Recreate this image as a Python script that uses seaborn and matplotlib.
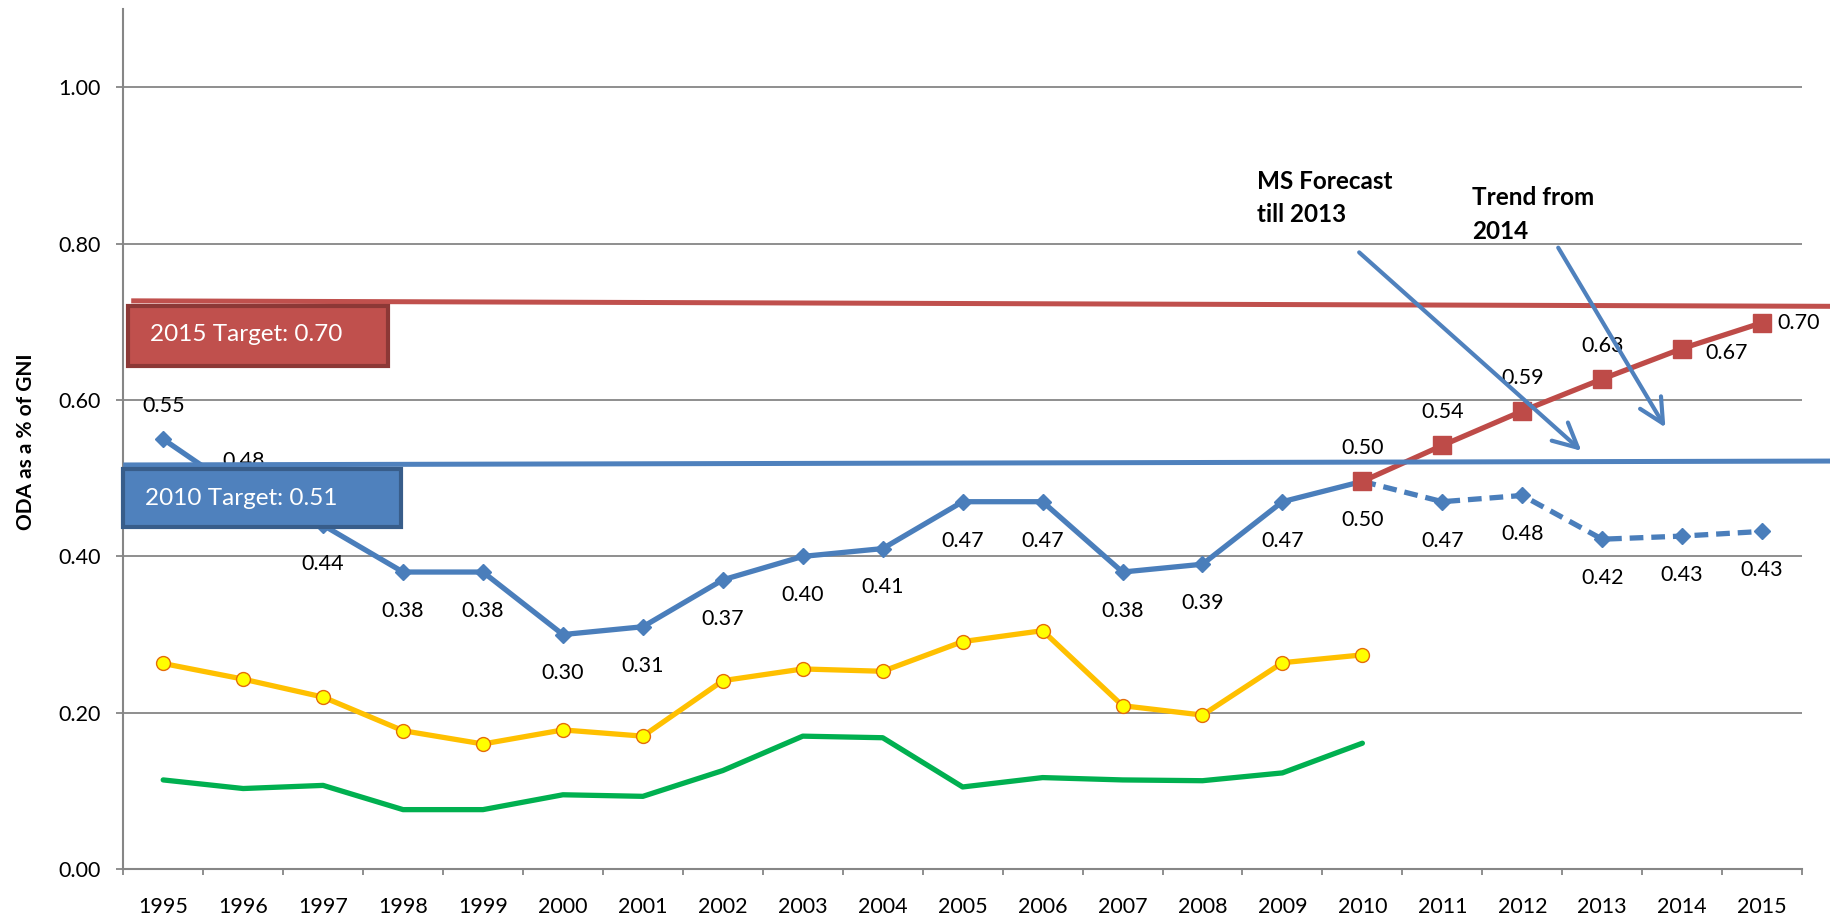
import numpy as np
import matplotlib
matplotlib.use("Agg")
import matplotlib.pyplot as plt
from matplotlib.patches import Rectangle
from matplotlib.ticker import FormatStrFormatter
import seaborn as sns

# categories
years = list(range(1995, 2016))
actual_years = list(range(1995, 2011))
forecast_years = list(range(2010, 2016))

# series values (ODA as % of GNI)
eu_oda = [0.55, 0.48, 0.44, 0.38, 0.38, 0.30, 0.31, 0.37, 0.40, 0.41,
          0.47, 0.47, 0.38, 0.39, 0.47, 0.496]
eu_forecast = [0.496, 0.47, 0.478, 0.422, 0.426, 0.432]
path_to_target = [0.496, 0.542, 0.586, 0.627, 0.666, 0.699]
yellow_series = [0.263, 0.243, 0.220, 0.177, 0.160, 0.178, 0.170, 0.241,
                 0.256, 0.253, 0.291, 0.305, 0.209, 0.197, 0.264, 0.274]
green_series = [0.114, 0.103, 0.107, 0.076, 0.076, 0.095, 0.093, 0.126,
                0.170, 0.168, 0.105, 0.117, 0.114, 0.113, 0.123, 0.161]

# target lines (left end, right end)
target_2015 = [0.727, 0.720]
target_2010 = [0.517, 0.522]

# where each data label sits
eu_label_pos = ["above", "above"] + ["below"] * 14
forecast_label_pos = ["below"] * 5
path_label_pos = ["above", "above", "above", "above", "right2", "right"]

GRID = "#868686"
BLUE = "#4A7EBB"
LIGHT_BLUE = "#4F81BD"
RED = "#BE4B48"
LIGHT_RED = "#C0504D"
GOLD = "#FFC000"
GREEN = "#00B050"

sns.set_theme(style="white")
plt.rcParams["font.family"] = ["Lato", "DejaVu Sans"]

fig = plt.figure(figsize=(18.31, 9.24), dpi=100)
ax = fig.add_axes([0.0673, 0.0595, 0.9169, 0.9304])

# lines
sns.lineplot(x=actual_years, y=green_series, color=GREEN, linewidth=3.8, ax=ax, zorder=2)
sns.lineplot(x=actual_years, y=yellow_series, color=GOLD, linewidth=3.8, marker="o",
             markersize=10, markerfacecolor="#FFFF00", markeredgecolor="#E46C0A",
             markeredgewidth=1.0, ax=ax, zorder=2)
sns.lineplot(x=actual_years, y=eu_oda, color=BLUE, linewidth=3.8, marker="D",
             markersize=8.5, markerfacecolor=BLUE, markeredgecolor=BLUE,
             markeredgewidth=1.0, ax=ax, zorder=3)
sns.lineplot(x=forecast_years, y=eu_forecast, color=BLUE, linewidth=3.8,
             linestyle=(0, (2.6, 1.5)), marker="D", markersize=8.5,
             markerfacecolor=BLUE, markeredgecolor=BLUE, markeredgewidth=1.0,
             ax=ax, zorder=3)
sns.lineplot(x=forecast_years, y=path_to_target, color=RED, linewidth=3.8, marker="s",
             markersize=13, markerfacecolor=RED, markeredgecolor=RED,
             markeredgewidth=1.0, ax=ax, zorder=4)

# data labels
offsets = {"above": (0, 24), "below": (0, -28), "right": (11, 0), "right2": (17, -3)}
label_sets = [(actual_years, eu_oda, eu_label_pos),
              (forecast_years[1:], eu_forecast[1:], forecast_label_pos),
              (forecast_years, path_to_target, path_label_pos)]
for xs, vals, poss in label_sets:
    for yr, v, pos in zip(xs, vals, poss):
        ha = "left" if pos.startswith("right") else "center"
        ax.annotate(f"{v:.2f}", (yr, v), xytext=offsets[pos], textcoords="offset points",
                    ha=ha, va="center", fontsize=15.5, color="black", zorder=3.5)

# target lines, running off the right of the plot
ax.plot([1994.6, 2015.86], target_2015, color=LIGHT_RED, linewidth=3.6,
        solid_capstyle="butt", clip_on=False, zorder=5)
ax.plot([1994.5, 2015.86], target_2010, color=LIGHT_BLUE, linewidth=3.6,
        solid_capstyle="butt", clip_on=False, zorder=5)

# target boxes
ax.add_patch(Rectangle((1994.56, 0.643), 3.25, 0.077, facecolor=LIGHT_RED,
                       edgecolor="#8C3836", linewidth=3, clip_on=False, zorder=6))
ax.text(1994.834, 0.684, "2015 Target: 0.70", color="white", fontsize=17.5,
        ha="left", va="center", zorder=7)
ax.add_patch(Rectangle((1994.5, 0.437), 3.48, 0.075, facecolor=LIGHT_BLUE,
                       edgecolor="#385D8A", linewidth=3, clip_on=False, zorder=6))
ax.text(1994.771, 0.474, "2010 Target: 0.51", color="white", fontsize=17.5,
        ha="left", va="center", zorder=7)

# notes and arrows
for txt, x0, base in [("MS Forecast", 2008.68, 0.870), ("till 2013", 2008.68, 0.828),
                      ("Trend from", 2011.37, 0.849), ("2014", 2011.37, 0.806)]:
    ax.text(x0, base, txt, fontsize=17.5, fontweight="bold", ha="left", va="baseline",
            color="black", zorder=7)

arrow_style = dict(arrowstyle="->,head_length=0.7,head_width=0.35", color=LIGHT_BLUE,
                   lw=3.0, mutation_scale=25, shrinkA=0, shrinkB=0)
ax.annotate("", xy=(2012.74, 0.535), xytext=(2009.96, 0.789), arrowprops=arrow_style,
            zorder=8)
ax.annotate("", xy=(2013.79, 0.565), xytext=(2012.45, 0.795), arrowprops=arrow_style,
            zorder=8)

# axes
ax.set_xlim(1994.5, 2015.5)
ax.set_ylim(0, 1.1)
ax.set_xticks(years)
ax.set_xticklabels([str(y) for y in years])
ax.set_xticks([y - 0.5 for y in years] + [2015.5], minor=True)
ax.tick_params(axis="x", which="major", bottom=True, length=0, pad=20,
               labelsize=15.5, labelcolor="black")
ax.tick_params(axis="x", which="minor", bottom=True, length=4.5, width=1.3,
               color=GRID, direction="out")
ax.set_yticks(np.arange(0, 1.01, 0.2))
ax.yaxis.set_major_formatter(FormatStrFormatter("%.2f"))
ax.tick_params(axis="y", which="major", left=True, length=5, width=1.3, color=GRID,
               direction="out", pad=11, labelsize=15.5, labelcolor="black")
ax.grid(axis="y", color=GRID, linewidth=1.3)
ax.grid(axis="x", visible=False)
ax.set_axisbelow(True)
for side in ["top", "right"]:
    ax.spines[side].set_visible(False)
for side in ["left", "bottom"]:
    ax.spines[side].set_color(GRID)
    ax.spines[side].set_linewidth(1.5)
ax.set_xlabel("")
ax.set_ylabel("")

fig.text(0.0142, 0.5216, "ODA as a % of GNI", rotation=90, ha="center", va="center",
         fontsize=15, fontweight="bold", color="black")

fig.savefig("out.png", dpi=100)
